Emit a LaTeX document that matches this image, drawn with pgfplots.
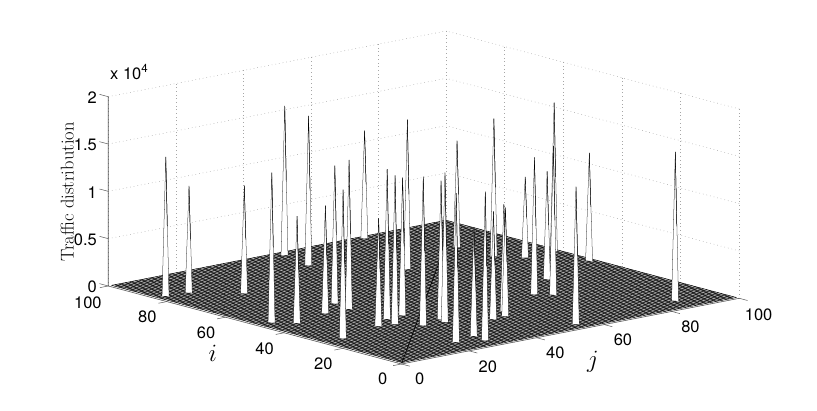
\documentclass[border=0pt]{standalone}
\usepackage{fontspec}
\setsansfont{TeX Gyre Heros}
\usepackage{pgfplots}
\pgfplotsset{compat=1.18}
\newcommand\spike[3]{%
 \pgfmathsetmacro\im{#1-1.1}\pgfmathsetmacro\jm{#2-1.1}%
 \pgfmathsetmacro\ih{#1-0.5}\pgfmathsetmacro\zh{#3*0.5}%
 \edef\doit{\noexpand\addplot3[fill=white,draw=none,mark=none,forget plot] coordinates {(#1,\jm,0)(#1,#2,#3)(\im,#2,0)};
 \noexpand\addplot3[draw=black,line width=0.26pt,mark=none,forget plot] coordinates {(#1,\jm,0)(#1,#2,#3)(\im,#2,0)};
 \noexpand\addplot3[draw=black,line width=0.45pt,mark=none,forget plot] coordinates {(#1,#2,#3)(\ih,#2,\zh)};}\doit}
\begin{document}
\begin{tikzpicture}
\begin{axis}[
 x={(2.932pt,-0.78pt)}, y={(3.378pt,0.657pt)}, z={(0pt,94.65pt)}, x dir=reverse,
 xmin=0,xmax=100,ymin=0,ymax=100,zmin=0,zmax=2,
 xtick={0,20,...,100}, ytick={0,20,...,100}, ztick={0,0.5,1,1.5,2},
 grid=major, grid style={black!35,line width=0.5pt,dash pattern=on 0.7pt off 3pt},
 axis line style={draw=none},
 clip=false,
 tick style={draw=none},
 major tick length=8pt,
 tick align=outside,
 tick pos=left,
 /pgf/number format/assume math mode=true,
 tick label style={font=\sffamily\fontsize{16.5}{18}\selectfont},
 xticklabel style={xshift=-3pt,yshift=-3.5pt},
 yticklabel style={xshift=3pt,yshift=-3pt},
 xlabel={\fontsize{23}{24}\selectfont$i$},
 ylabel={\fontsize{23}{24}\selectfont$j$},
 zlabel={\rmfamily\fontsize{18.5}{20}\selectfont Traffic distribution},
 x label style={at={(axis cs:35.3,-25.2,0)},anchor=center},
 y label style={at={(axis cs:-26.1,34,0)},anchor=center},
 z label style={at={(axis cs:100,-12.2,1.077)},anchor=center,rotate=0},
]
\coordinate (O) at (axis cs:0,0,0);
% floor
\addplot3[fill=white,draw=none,mark=none,forget plot] coordinates {(1,1,0)(100,1,0)(100,100,0)(1,100,0)};
\pgfplotsinvokeforeach{1,...,100}{
 \addplot3[draw=black,line width=0.5pt,mark=none,forget plot] coordinates {(#1,1,0)(#1,100,0)};
 \addplot3[draw=black,line width=0.5pt,mark=none,forget plot] coordinates {(1,#1,0)(100,#1,0)};
}
\addplot3[draw=black,line width=0.6pt,mark=none,forget plot] coordinates {(1,1,0)(72,74,0)};
% axis lines and ticks
\addplot3[draw=black!65,line width=0.6pt,mark=none,forget plot] coordinates {(100,0,2)(100,0,0)(0,0,0)(0,100,0)};
\pgfplotsinvokeforeach{0,20,...,100}{
 \addplot3[draw=black!65,line width=0.5pt,mark=none,forget plot] coordinates {(#1,0,0)(#1,-2.5,0)};
 \addplot3[draw=black!65,line width=0.5pt,mark=none,forget plot] coordinates {(0,#1,0)(-2.8,#1,0)};
}
\pgfplotsinvokeforeach{0,0.5,1,1.5,2}{
 \addplot3[draw=black!65,line width=0.5pt,mark=none,forget plot] coordinates {(100,0,#1)(103,0,#1)};
}
% spikes, back to front: i, j, z (x 10^4)
\spike{99}{75}{1.13}
\spike{79}{85}{1.12}
\spike{62}{99}{1.564}
\spike{67}{85.5}{1.447}
\spike{61.5}{90}{0.845}
\spike{50}{99}{1.13}
\spike{98}{50.5}{1.57}
\spike{87}{48}{1.57}
\spike{70}{62.5}{1.57}
\spike{42.5}{80}{1.13}
\spike{30}{71}{1.564}
\spike{33}{68}{1.44}
\spike{8}{88}{1.564}
\spike{75.5}{19}{1.13}
\spike{84}{10}{1.12}
\spike{85}{4}{1.46}
\spike{55}{28}{1.447}
\spike{25}{52}{1.12}
\spike{49}{27}{1.564}
\spike{21}{49}{1.14}
\spike{49}{20}{1.13}
\spike{36.5}{32}{1.447}
\spike{20.5}{45}{1.13}
\spike{28}{36}{1.457}
\spike{36}{27}{1.574}
\spike{5}{56}{1.443}
\spike{25.5}{35}{1.57}
\spike{31}{25}{1.564}
\spike{26}{29}{1.564}
\spike{50}{5}{1.574}
\spike{46}{9}{1.12}
\spike{32}{21}{1.13}
\spike{11}{31}{1.14}
\spike{6}{30}{1.564}
\spike{28}{7}{1.564}
\spike{9}{24}{1.564}
\node[font=\sffamily\fontsize{16.5}{18}\selectfont] at (axis cs:100,6.2,2.218) {x 10$^{\mathsf{4}}$};
\end{axis}
\pgfresetboundingbox
\path[use as bounding box,shift={(O)}] (-401.5pt,-47pt) rectangle +(817pt,411pt);
\end{tikzpicture}
\end{document}
